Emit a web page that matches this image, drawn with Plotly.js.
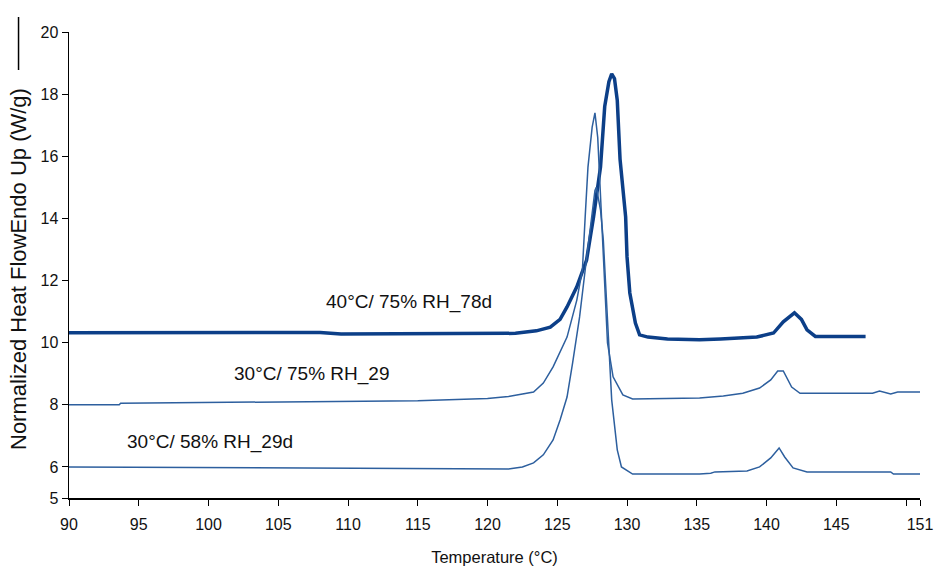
<!DOCTYPE html>
<html>
<head>
<meta charset="utf-8">
<script src="https://cdn.plot.ly/plotly-3.0.1.min.js"></script>
<style>html,body{margin:0;padding:0;background:#fff;}#chart{width:934px;height:568px;}</style>
</head>
<body>
<div id="chart"></div>
<script>
// 40°C/ 75% RH_78d
const temp78d = [90,100,108,109.5,120,122,123.5,124.5,125.2,125.7,126.4,127.1,127.6,128.1,128.4,128.7,128.9,129.1,129.3,129.5,129.9,130.0,130.2,130.6,130.9,131.5,132.9,135.2,136.7,139.3,140.5,141.2,142.0,142.5,142.9,143.5,147.1];
const flow78d = [10.32,10.33,10.33,10.28,10.28,10.3,10.38,10.5,10.75,11.15,11.8,12.66,14.05,15.66,17.6,18.4,18.65,18.5,17.8,15.9,14.05,12.76,11.6,10.63,10.25,10.18,10.12,10.09,10.12,10.18,10.31,10.67,10.96,10.75,10.41,10.2,10.2];
// 30°C/ 75% RH_29
const temp75 = [90,93.6,93.7,100,110,115,120,121.5,123.3,124,124.7,125.7,126.4,126.8,127.0,127.2,127.5,127.7,127.9,128.2,128.4,128.6,129.0,129.7,130.4,135.2,136.9,138.3,139.5,140.3,140.8,141.2,141.8,142.4,147.6,148.1,148.9,149.4,151];
const flow75 = [8.0,8.0,8.05,8.07,8.1,8.13,8.2,8.27,8.41,8.7,9.22,10.18,11.37,12.34,14.05,15.65,16.94,17.4,16.6,13.85,11.9,9.99,8.9,8.32,8.19,8.22,8.28,8.37,8.54,8.8,9.09,9.09,8.57,8.37,8.37,8.44,8.35,8.41,8.41];
// 30°C/ 58% RH_29d
const temp58 = [90,100,110,120,121.5,122.5,123.3,124,124.7,125.2,125.7,126.1,126.6,127.0,127.5,127.7,127.8,128.1,128.3,128.6,128.9,129.3,129.6,130.4,135.2,136.0,136.3,138.6,139.5,140.3,140.9,141.3,141.9,142.9,148.9,149.1,151];
const flow58 = [6.0,5.98,5.96,5.95,5.93,6.0,6.13,6.39,6.87,7.51,8.25,9.35,10.83,12.34,14.05,14.9,15.0,14.27,13.3,10.83,8.16,6.55,6.0,5.77,5.77,5.8,5.84,5.87,6.0,6.29,6.61,6.32,5.97,5.84,5.84,5.77,5.77];

const xTicks = [90,95,100,105,110,115,120,125,130,135,140,145,150,151];
const xTickText = ["90","95","100","105","110","115","120","125","130","135","140","145","","151"];
const yTicks = [5,6,8,10,12,14,16,18,20];
const labels = ["40°C/ 75% RH_78d","30°C/ 75% RH_29","30°C/ 58% RH_29d"];
const labelX = [114.4, 107.4, 100.1];
const labelY = [11.3, 9.0, 6.8];

const FONT = "Liberation Sans, Arial, sans-serif";

const traces = [
  {x: temp78d, y: flow78d, mode: 'lines', line: {color: '#0c3f88', width: 3.5}, hoverinfo: 'skip'},
  {x: temp75, y: flow75, mode: 'lines', line: {color: '#2d5f9e', width: 1.5}, hoverinfo: 'skip'},
  {x: temp58, y: flow58, mode: 'lines', line: {color: '#2d5f9e', width: 1.5}, hoverinfo: 'skip'}
];

const annotations = labels.map((t, i) => ({
  x: labelX[i], y: labelY[i], xref: 'x', yref: 'y', text: t, showarrow: false,
  font: {family: FONT, size: 19, color: '#111'}
}));
annotations.push({
  x: 0, y: 0.5, xref: 'paper', yref: 'paper', xanchor: 'center', yanchor: 'middle',
  xshift: -51, yshift: -4,
  text: 'Normalized Heat FlowEndo Up (W/g)', textangle: -90, showarrow: false,
  font: {family: FONT, size: 22, color: '#111'}
});

const layout = {
  width: 934, height: 568,
  margin: {l: 69, r: 14, t: 32, b: 70},
  paper_bgcolor: '#fff', plot_bgcolor: '#fff',
  showlegend: false,
  font: {family: FONT, size: 16, color: '#111'},
  xaxis: {
    range: [90, 151], tickvals: xTicks, ticktext: xTickText, tickangle: 0,
    showline: true, linecolor: '#000', linewidth: 1.5, ticks: 'outside', ticklen: 6, tickcolor: '#000',
    showgrid: false, zeroline: false, ticklabelstandoff: 5,
    tickfont: {family: FONT, size: 16, color: '#111'},
    title: {text: 'Temperature (°C)', font: {family: FONT, size: 16.5, color: '#111'}, standoff: 19}
  },
  yaxis: {
    range: [5, 20], tickvals: yTicks, ticktext: yTicks.map(String),
    showline: true, linecolor: '#000', linewidth: 1.5, ticks: 'outside', ticklen: 6, tickcolor: '#000',
    showgrid: false, zeroline: false,
    tickfont: {family: FONT, size: 16, color: '#111'}
  },
  annotations: annotations,
  shapes: [{
    type: 'line', xref: 'paper', yref: 'paper',
    x0: -0.0593, x1: -0.0593, y0: (568-70-17)/466, y1: (568-70-70)/466,
    line: {color: '#000', width: 1.5}
  }]
};

Plotly.newPlot('chart', traces, layout, {staticPlot: true, displayModeBar: false});
</script>
</body>
</html>
